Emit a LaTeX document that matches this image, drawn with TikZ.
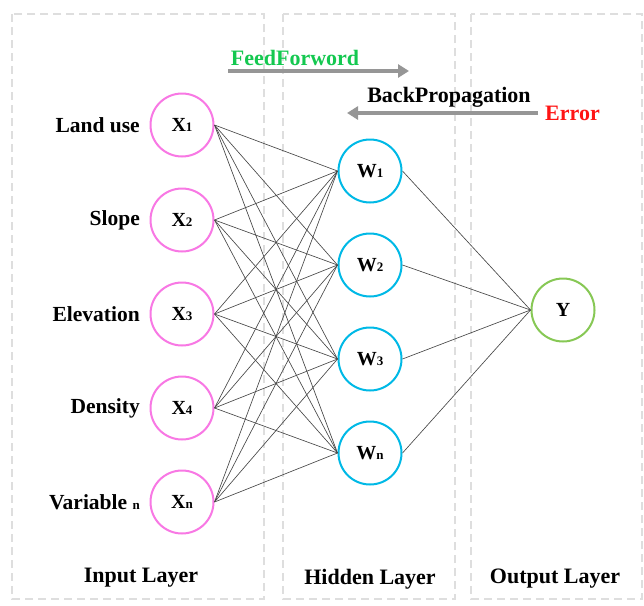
\documentclass[tikz,border=0pt]{standalone}
\usepackage{fontspec}
\setmainfont{Liberation Serif}
\usetikzlibrary{arrows.meta}

\definecolor{inpink}{RGB}{248,120,228}
\definecolor{hidcyan}{RGB}{0,185,230}
\definecolor{outgreen}{RGB}{135,200,85}
\definecolor{boxgray}{RGB}{222,222,222}
\definecolor{flowgray}{RGB}{150,150,150}
\definecolor{ffgreen}{RGB}{20,200,80}
\definecolor{errred}{RGB}{255,20,20}

% small index set next to a node letter
\newcommand\nidx[1]{{\fontsize{13}{13}\selectfont #1}}

\begin{document}
\begin{tikzpicture}[x=1pt,y=-1pt,
  layerbox/.style={draw=boxgray, line width=2.6pt, dash pattern=on 8pt off 5pt},
  neuron/.style={circle, minimum size=63pt, inner sep=0pt, line width=2pt, fill=white,
    font=\fontsize{20}{23}\selectfont\bfseries},
  innode/.style={neuron, draw=inpink},
  hidnode/.style={neuron, draw=hidcyan},
  outnode/.style={neuron, draw=outgreen},
  lbl/.style={font=\fontsize{22}{26}\selectfont\bfseries, inner sep=0pt},
  side/.style={lbl, font=\fontsize{21.5}{26}\selectfont\bfseries, anchor=east},
  link/.style={draw=black!72, line width=0.65pt},
  flow/.style={draw=flowgray, line width=4pt, -{Triangle[length=11pt,width=13pt]}}]

\useasboundingbox (0,0) rectangle (644,605);

% layer frames
\draw[layerbox] (12,14) rectangle (264,599);
\draw[layerbox] (283,14) rectangle (455,599);
\draw[layerbox] (471,14) rectangle (642,599);

% input layer
\node[innode] (x1) at (182,125) {X\nidx{1}};
\node[innode] (x2) at (182,220) {X\nidx{2}};
\node[innode] (x3) at (182,314) {X\nidx{3}};
\node[innode] (x4) at (182,408) {X\nidx{4}};
\node[innode] (x5) at (182,502) {X\nidx{n}};

\node[side] (l1) at (140,125) {Land use};
\node[side] (l2) at (140,220) {Slope};
\node[side] (l3) at (140,314) {Elevation};
\node[side] (l4) at (140,408) {Density};
\node[side] (l5) at (140,502) {Variable \nidx{n}};

% hidden layer
\node[hidnode] (w1) at (370,171) {W\nidx{1}};
\node[hidnode] (w2) at (370,265) {W\nidx{2}};
\node[hidnode] (w3) at (370,359) {W\nidx{3}};
\node[hidnode] (w4) at (370,453) {W\nidx{n}};

% output layer
\node[outnode] (y) at (563,310) {Y};

% connections
\foreach \i in {1,...,5}
  \foreach \j in {1,...,4}
    \draw[link] (x\i.east) -- (w\j.west);
\foreach \j in {1,...,4}
  \draw[link] (w\j.east) -- (y.west);

% layer captions
\node[lbl] (cin) at (141,578) {Input Layer};
\node[lbl] (chid) at (370,579) {Hidden Layer};
\node[lbl] (cout) at (555,579) {Output Layer};

% training flow
\node[lbl, text=ffgreen] (ff) at (295,58) {FeedForword};
\coordinate (ffa) at (228,71);
\coordinate (ffb) at (409,71);
\draw[flow] (ffa) -- (ffb);

\node[lbl] (bp) at (449,97) {BackPropagation};
\node[lbl, text=errred, anchor=west] (err) at (545,113) {Error};
\coordinate (bpa) at (538,113);
\coordinate (bpb) at (347,113);
\draw[flow] (bpa) -- (bpb);
\end{tikzpicture}
\end{document}
